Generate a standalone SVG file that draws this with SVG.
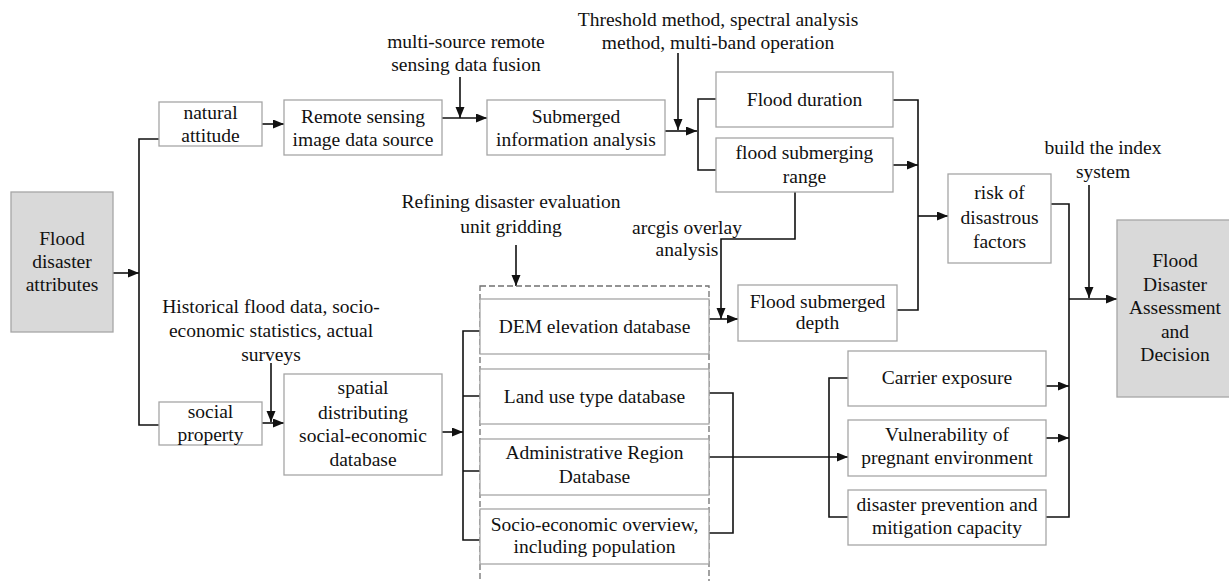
<svg xmlns="http://www.w3.org/2000/svg" width="1229" height="581" viewBox="0 0 1229 581" font-family="'Liberation Serif', 'Times New Roman', Times, serif">
<style>
text{font-family:'Liberation Serif','Times New Roman',Times,serif;font-size:19.5px;fill:#111;text-anchor:middle}
.box{fill:#fff;stroke:#a6a6a6;stroke-width:1.3}
.grey{fill:#d9d9d9;stroke:#a6a6a6;stroke-width:1.3}
.dash{fill:none;stroke:#707070;stroke-width:1.3;stroke-dasharray:6 3}
.c{fill:none;stroke:#111;stroke-width:1.6}
.a{fill:none;stroke:#111;stroke-width:1.6;marker-end:url(#ah)}
</style>
<defs>
<marker id="ah" markerUnits="userSpaceOnUse" markerWidth="12" markerHeight="10" refX="11" refY="4.5" orient="auto">
<path d="M0,0 L11,4.5 L0,9 z" fill="#111"/>
</marker>
</defs>
<rect width="1229" height="581" fill="#fff"/>

<g id="connectors">
<path class="a" d="M113,273 H139"/>
<path class="c" d="M159,139 H139 V425 H159"/>
<path class="a" d="M262,124 H284"/>
<path class="a" d="M442,118 H487"/>
<path class="a" d="M460,77 V118"/>
<path class="a" d="M665,131 H697"/>
<path class="a" d="M678,53 V130"/>
<path class="c" d="M716,99 H698 V170 H716"/>
<path class="c" d="M893,100 H918 V310 H897"/>
<path class="a" d="M893,165 H918"/>
<path class="a" d="M918,216 H948"/>
<path class="c" d="M1051,204 H1069 V517 H1046"/>
<path class="a" d="M1089,185 V298"/>
<path class="a" d="M1069,299 H1117"/>
<path class="a" d="M1046,386 H1069"/>
<path class="a" d="M1046,438 H1069"/>
<path class="c" d="M848,378 H829 V517 H848"/>
<path class="a" d="M709,457 H848"/>
<path class="c" d="M709,393 H733 V533 H709"/>
<path class="a" d="M795,192 V239 H721 V319"/>
<path class="a" d="M709,319 H738"/>
<path class="a" d="M516,245 V286"/>
<path class="a" d="M262,423 H284"/>
<path class="a" d="M271,363 V422"/>
<path class="a" d="M442,432 H463"/>
<path class="c" d="M480,331 H463 V540 H480 M463,396 H480 M463,471 H480"/>
</g>

<g id="flood-attributes">
<rect class="grey" x="11" y="192" width="102" height="140"/>
<text x="62" y="245">Flood</text>
<text x="62" y="268">disaster</text>
<text x="62" y="291">attributes</text>
</g>

<g id="natural-attitude">
<rect class="box" x="159" y="102" width="103" height="44"/>
<text x="210.5" y="119">natural</text>
<text x="210.5" y="142">attitude</text>
</g>

<g id="social-property">
<rect class="box" x="159" y="402" width="103" height="43"/>
<text x="210.5" y="418">social</text>
<text x="210.5" y="441">property</text>
</g>

<g id="remote-sensing">
<rect class="box" x="284" y="100" width="158" height="55"/>
<text x="363" y="123">Remote sensing</text>
<text x="363" y="146">image data source</text>
</g>

<g id="label-multisource">
<text x="466" y="48">multi-source remote</text>
<text x="466" y="71">sensing data fusion</text>
</g>

<g id="submerged-info">
<rect class="box" x="487" y="100" width="178" height="55"/>
<text x="576" y="123">Submerged</text>
<text x="576" y="146">information analysis</text>
</g>

<g id="label-threshold">
<text x="718" y="26">Threshold method, spectral analysis</text>
<text x="718" y="49">method, multi-band operation</text>
</g>

<g id="flood-duration">
<rect class="box" x="716" y="72" width="177" height="55"/>
<text x="804.5" y="106">Flood duration</text>
</g>

<g id="flood-range">
<rect class="box" x="716" y="138" width="177" height="54"/>
<text x="804.5" y="159">flood submerging</text>
<text x="804.5" y="183">range</text>
</g>

<g id="risk-factors">
<rect class="box" x="948" y="174" width="103" height="89"/>
<text x="999.5" y="199">risk of</text>
<text x="999.5" y="224">disastrous</text>
<text x="999.5" y="248">factors</text>
</g>

<g id="label-index">
<text x="1103" y="154">build the index</text>
<text x="1103" y="178">system</text>
</g>

<g id="assessment">
<rect class="grey" x="1117" y="220" width="114" height="177"/>
<text x="1175" y="267">Flood</text>
<text x="1175" y="291">Disaster</text>
<text x="1175" y="314">Assessment</text>
<text x="1175" y="338">and</text>
<text x="1175" y="361">Decision</text>
</g>

<g id="label-refining">
<text x="511" y="208">Refining disaster evaluation</text>
<text x="511" y="233">unit gridding</text>
</g>

<g id="label-arcgis">
<text x="687" y="234">arcgis overlay</text>
<text x="687" y="256">analysis</text>
</g>

<g id="label-historical">
<text x="271" y="313">Historical flood data, socio-</text>
<text x="271" y="337">economic statistics, actual</text>
<text x="271" y="361">surveys</text>
</g>

<g id="spatial-db">
<rect class="box" x="284" y="374" width="158" height="101"/>
<text x="363" y="394">spatial</text>
<text x="363" y="419">distributing</text>
<text x="363" y="442">social-economic</text>
<text x="363" y="466">database</text>
</g>

<g id="database-group">
<rect class="dash" x="480" y="286" width="229" height="300"/>
</g>

<g id="dem-db">
<rect class="box" x="480" y="299" width="229" height="55"/>
<text x="594.5" y="333">DEM elevation database</text>
</g>

<g id="landuse-db">
<rect class="box" x="480" y="369" width="229" height="55"/>
<text x="594.5" y="403">Land use type database</text>
</g>

<g id="admin-db">
<rect class="box" x="480" y="439" width="229" height="56"/>
<text x="594.5" y="459">Administrative Region</text>
<text x="594.5" y="483">Database</text>
</g>

<g id="socio-db">
<rect class="box" x="480" y="509" width="229" height="55"/>
<text x="594.5" y="531">Socio-economic overview,</text>
<text x="594.5" y="553">including population</text>
</g>

<g id="flood-depth">
<rect class="box" x="738" y="285" width="159" height="56"/>
<text x="817.5" y="308">Flood submerged</text>
<text x="817.5" y="329">depth</text>
</g>

<g id="carrier-exposure">
<rect class="box" x="848" y="351" width="198" height="55"/>
<text x="947" y="384">Carrier exposure</text>
</g>

<g id="vulnerability">
<rect class="box" x="848" y="420" width="198" height="56"/>
<text x="947" y="441">Vulnerability of</text>
<text x="947" y="464">pregnant environment</text>
</g>

<g id="prevention">
<rect class="box" x="848" y="490" width="198" height="55"/>
<text x="947" y="511">disaster prevention and</text>
<text x="947" y="534">mitigation capacity</text>
</g>
</svg>
